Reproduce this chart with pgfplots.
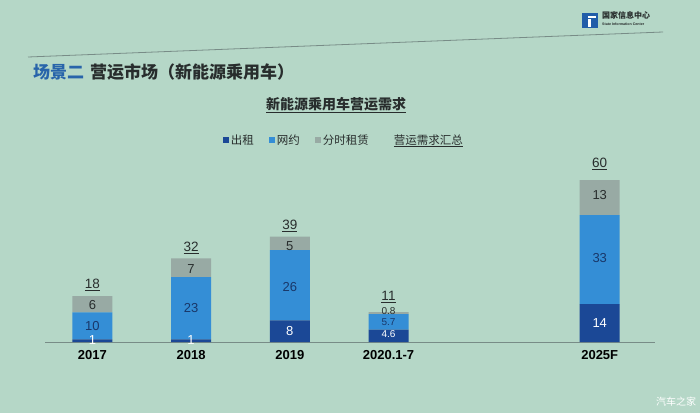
\documentclass[border=0pt]{standalone}
\usepackage{fontspec}
\setmainfont{Liberation Sans}
\newfontfamily\cjk{Noto Sans CJK SC}
\usepackage{pgfplots}
\pgfplotsset{compat=1.18}
\definecolor{bg}{RGB}{181,215,199}
\definecolor{cA}{RGB}{27,72,150}
\definecolor{cB}{RGB}{52,142,214}
\definecolor{cC}{RGB}{152,170,164}
\definecolor{tblue}{RGB}{40,100,170}
\definecolor{txt}{RGB}{40,45,45}
\definecolor{lab}{RGB}{25,55,105}
\definecolor{lin}{RGB}{120,140,135}
\begin{document}
\begin{tikzpicture}[x=1pt,y=1pt]
\fill[bg] (0,0) rectangle (700,413);
\useasboundingbox (0,0) rectangle (700,413);
% header
\draw[lin, line width=0.8pt] (28,356) -- (663,381);
\fill[cA!70!cB] (582,385) rectangle (598,400);
\fill[white] (588,386) rectangle (591,394);
\fill[white] (588,395) rectangle (596,397);
\node[anchor=west, font=\cjk\fontsize{8}{8}\selectfont\bfseries, text=txt, inner sep=0] at (602,398) {国家信息中心};
\node[anchor=west, font=\fontsize{3.6}{4}\selectfont\bfseries, text=txt, inner sep=0] at (602,389) {State Information Center};
\node[anchor=west, font=\cjk\fontsize{17}{17}\selectfont\bfseries, text=txt, inner sep=0] at (33,341) {\textcolor{tblue}{场景二}\hspace{6pt}营运市场（新能源乘用车）};
\node[font=\cjk\fontsize{14}{14}\selectfont\bfseries, text=txt] at (336,308) {\underline{新能源乘用车营运需求}};
\node[font=\cjk\fontsize{10}{10}\selectfont, text=white] at (676,11) {汽车之家};

\begin{axis}[
  at={(45pt,71pt)}, anchor=south west,
  scale only axis, width=610pt, height=189pt,
  xmin=-0.48, xmax=5.70, ymin=0, ymax=70,
  ybar stacked, bar width=40pt,
  axis x line=bottom, axis y line=none,
  x axis line style={draw=lin, line width=0.8pt, -},
  xtick={0,1,2,3,5.14}, xticklabels={2017,2018,2019,2020.1-7,2025F},
  major tick length=0pt,
  xticklabel style={font=\fontsize{13}{13}\selectfont\bfseries, text=black, yshift=-5pt},
  legend image code/.code={\fill[#1] (0pt,-3pt) rectangle (6pt,3pt);},
  legend style={at={(0.49,1.069)}, anchor=center, draw=none, fill=none,
    legend columns=-1, font=\cjk\fontsize{11.5}{11.5}\selectfont, text=txt,
    /tikz/every even column/.append style={column sep=13pt}},
]
\addplot[fill=cA, draw=none] coordinates {(0,1) (1,1) (2,8) (3,4.6) (5.14,14)};
\addlegendentry{出租}
\addplot[fill=cB, draw=none] coordinates {(0,10) (1,23) (2,26) (3,5.7) (5.14,33)};
\addlegendentry{网约}
\addplot[fill=cC, draw=none] coordinates {(0,6) (1,7) (2,5) (3,0.8) (5.14,13)};
\addlegendentry{分时租赁}
\addlegendimage{empty legend}
\addlegendentry{\hspace{8pt}\underline{营运需求汇总}}
\end{axis}

\begin{axis}[
  at={(45pt,71pt)}, anchor=south west,
  scale only axis, width=610pt, height=189pt,
  xmin=-0.48, xmax=5.70, ymin=0, ymax=70, hide axis,
  nodes near coords={\pgfplotspointmeta}, point meta=explicit symbolic,
  every node near coord/.append style={anchor=center, inner sep=0pt},
]
\addplot[draw=none, nodes near coords style={text=white, font=\fontsize{13}{13}\selectfont}]
  coordinates {(0,0.7)[1] (1,0.7)[1] (2,4.2)[8] (5.14,7.1)[14]};
\addplot[draw=none, nodes near coords style={text=lab, font=\fontsize{13}{13}\selectfont}]
  coordinates {(0,5.9)[10] (1,12.6)[23] (2,20.5)[26] (5.14,31)[33]};
\addplot[draw=none, nodes near coords style={text=txt, font=\fontsize{13}{13}\selectfont}]
  coordinates {(0,13.7)[6] (1,27)[7] (2,35.5)[5] (5.14,54.4)[13]};
\addplot[draw=none, nodes near coords style={text=white, font=\fontsize{10}{10}\selectfont}]
  coordinates {(3,2.9)[4.6]};
\addplot[draw=none, nodes near coords style={text=lab, font=\fontsize{10}{10}\selectfont}]
  coordinates {(3,7.2)[5.7]};
\addplot[draw=none, nodes near coords style={text=txt, font=\fontsize{10}{10}\selectfont}]
  coordinates {(3,11.3)[0.8]};
\addplot[draw=none, nodes near coords={\underline{\pgfplotspointmeta}}, nodes near coords style={text=txt, font=\fontsize{13.5}{13.5}\selectfont}]
  coordinates {(0,21.1)[18] (1,34.9)[32] (2,43)[39] (3,16.6)[11] (5.14,66)[60]};
\end{axis}
\end{tikzpicture}
\end{document}
